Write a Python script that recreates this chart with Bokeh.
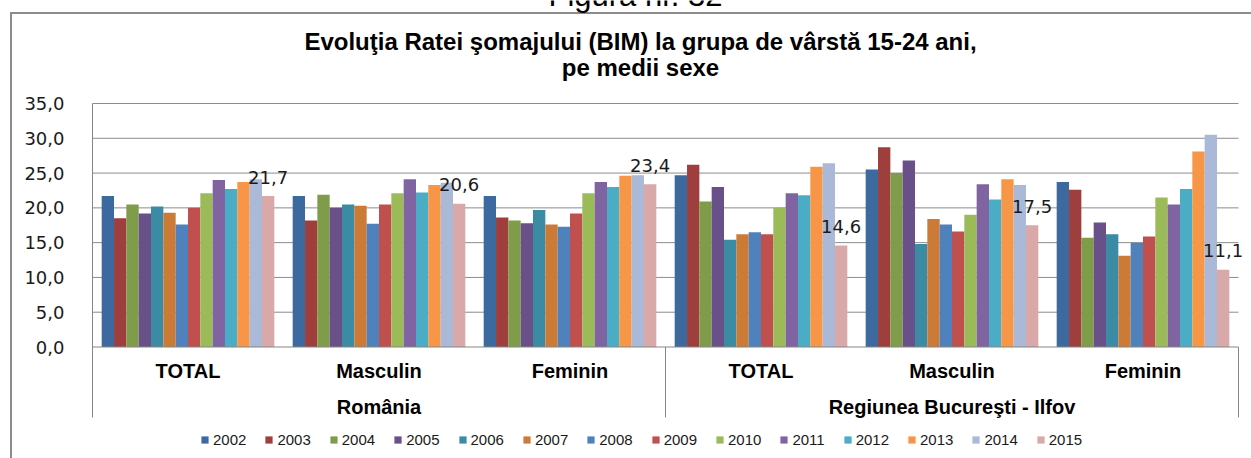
import numpy as np
from bokeh.plotting import figure
from bokeh.models import (Range1d, FixedTicker, CustomJSTickFormatter, ColumnDataSource,
                          Legend, LegendItem)
from bokeh.core.properties import value
from bokeh.embed import file_html
from bokeh.resources import INLINE

# ---------------- data ----------------
years = ["2002", "2003", "2004", "2005", "2006", "2007", "2008",
         "2009", "2010", "2011", "2012", "2013", "2014", "2015"]
groups = ["România", "Regiunea Bucureşti - Ilfov"]
categories = ["TOTAL", "Masculin", "Feminin"]

ro_total = [21.7, 18.5, 20.5, 19.2, 20.2, 19.3, 17.6, 20.0, 22.1, 24.0, 22.7, 23.7, 24.1, 21.7]
ro_masculin = [21.7, 18.2, 21.9, 20.0, 20.5, 20.3, 17.7, 20.5, 22.1, 24.1, 22.2, 23.3, 23.6, 20.6]
ro_feminin = [21.7, 18.6, 18.2, 17.8, 19.7, 17.6, 17.3, 19.2, 22.1, 23.7, 23.0, 24.6, 24.7, 23.4]
bi_total = [24.7, 26.2, 20.9, 23.0, 15.4, 16.2, 16.5, 16.2, 20.0, 22.1, 21.8, 25.9, 26.4, 14.6]
bi_masculin = [25.5, 28.7, 25.0, 26.8, 14.8, 18.4, 17.6, 16.6, 19.0, 23.4, 21.2, 24.1, 23.3, 17.5]
bi_feminin = [23.7, 22.6, 15.7, 17.9, 16.2, 13.1, 15.0, 15.9, 21.5, 20.5, 22.7, 28.1, 30.5, 11.1]

y_ticks = [0, 5, 10, 15, 20, 25, 30, 35]

figure_caption = "Figura nr. 32"
title_lines = ["Evoluţia Ratei şomajului (BIM) la grupa de vârstă 15-24 ani,",
               "pe medii sexe"]

colors = ["#3D6A9E", "#9E3F3D", "#7F9C4A", "#6A5088", "#3A8BA3", "#CC7B37", "#4F81BD",
          "#C0504D", "#9BBB59", "#8064A2", "#4BACC6", "#F79646", "#AAB9D7", "#D9A9A9"]

series_by_cat = [ro_total, ro_masculin, ro_feminin, bi_total, bi_masculin, bi_feminin]

# ---------------- layout (canvas pixels) ----------------
W, H = 1251, 458
FRAME_LEFT = 84
X0_PX, PX_PER_X = 92.0, 191.0      # canvas x of category index 0, px per category
Y0_PX, PX_PER_Y = 346.5, 6.957     # canvas y of value 0, px per unit


def dx(px):
    return (px - X0_PX) / PX_PER_X


def dy(py):
    return (Y0_PX - py) / PX_PER_Y


GRID = "#8C8C8C"
AXIS = "#868686"
BORDER = "#8C8C8C"

p = figure(width=W, height=H, output_backend="svg", toolbar_location=None,
           x_range=Range1d(dx(FRAME_LEFT), dx(W)), y_range=Range1d(dy(H), dy(0)),
           x_axis_location=None, min_border_left=FRAME_LEFT, min_border_right=0,
           min_border_top=0, min_border_bottom=0)
p.outline_line_color = None
p.xgrid.visible = False
p.ygrid.visible = False
# transparent canvas so the chart-area border (drawn as the element background) shows
p.background_fill_alpha = 0
p.border_fill_alpha = 0
p.styles = {
    "background-color": "white",
    "background-image": f"linear-gradient({BORDER}, {BORDER}), linear-gradient({BORDER}, {BORDER})",
    "background-size": "2px 100%, 100% 2px",
    "background-position": "10px 12px, 10px 12px",
    "background-repeat": "no-repeat",
}

# y axis
ax = p.yaxis[0]
ax.ticker = FixedTicker(ticks=y_ticks)
ax.formatter = CustomJSTickFormatter(code="return tick.toFixed(1).replace('.', ',');")
ax.axis_line_color = None
ax.major_tick_line_color = None
ax.minor_tick_line_color = None
ax.major_label_standoff = 14
ax.major_label_text_font = "DejaVu Sans"
ax.major_label_text_font_size = "18px"
ax.major_label_text_color = "#1A1A1A"

n_cat = len(series_by_cat)
n_year = len(years)
pad = 0.0481
bw = (1 - 2 * pad) / n_year

# gridlines (5..35) across the category span
gy = [t for t in y_ticks if t > 0]
p.segment(x0=[0] * len(gy), y0=gy, x1=[n_cat] * len(gy), y1=gy, line_color=GRID, line_width=1)

# bars
renderers = []
for j, yr in enumerate(years):
    xs = [c + pad + (j + 0.5) * bw for c in range(n_cat)]
    tops = [series_by_cat[c][j] for c in range(n_cat)]
    src = ColumnDataSource(dict(x=xs, top=tops))
    r = p.vbar(x="x", top="top", width=bw, bottom=0, source=src,
               fill_color=colors[j], line_color=None)
    renderers.append(r)

# data labels on last year
last = n_year - 1
lx = [c + pad + (last + 0.5) * bw for c in range(n_cat)]
ly = [series_by_cat[c][last] for c in range(n_cat)]
lt = [f"{v:.1f}".replace(".", ",") for v in ly]
p.text(x=lx, y=ly, text=lt, text_align="center", text_baseline="middle", y_offset=-19,
       text_font=value("DejaVu Sans"), text_font_size="18px", text_color="#1A1A1A")

# axis lines and category separators
y_sep = dy(417)
p.segment(x0=[0], y0=[0], x1=[n_cat], y1=[0], line_color=AXIS, line_width=1)
p.segment(x0=[0], y0=[y_sep], x1=[0], y1=[max(y_ticks)], line_color=AXIS, line_width=1)
p.segment(x0=[3, 6], y0=[0, 0], x1=[3, 6], y1=[y_sep, y_sep], line_color=AXIS, line_width=1)

# category labels
cx = [c + 0.5 for c in range(n_cat)]
ct = categories * len(groups)
p.text(x=cx, y=[dy(370)] * n_cat, text=ct, text_align="center", text_baseline="middle",
       text_font=value("Liberation Sans"), text_font_style="bold", text_font_size="20px",
       text_color="black")
gx = [1.5, 4.5]
p.text(x=gx, y=[dy(406)] * 2, text=groups, text_align="center", text_baseline="middle",
       text_font=value("Liberation Sans"), text_font_style="bold", text_font_size="20px",
       text_color="black")

# figure caption (cut off at the top edge, as in the source page)
p.text(x=[dx(635)], y=[dy(-5)], text=[figure_caption], text_align="center",
       text_baseline="alphabetic", text_font=value("Liberation Sans"),
       text_font_size="31px", text_color="black")

# title
p.text(x=[dx(640)] * 2, y=[dy(41), dy(67)], text=title_lines, text_align="center",
       text_baseline="middle", text_font=value("Liberation Sans"), text_font_style="bold",
       text_font_size="24px", text_color="black")

# legend
legend = Legend(items=[LegendItem(label=yr, renderers=[r]) for yr, r in zip(years, renderers)],
                orientation="horizontal", location=(116, 10),
                border_line_color=None, background_fill_alpha=0,
                padding=0, margin=0, spacing=18, label_standoff=4,
                glyph_width=9, glyph_height=9, label_height=15,
                label_text_font="Liberation Sans", label_text_font_size="15px",
                label_text_color="#1A1A1A")
p.add_layout(legend, "center")

open("out.html", "w").write(file_html(p, INLINE))
